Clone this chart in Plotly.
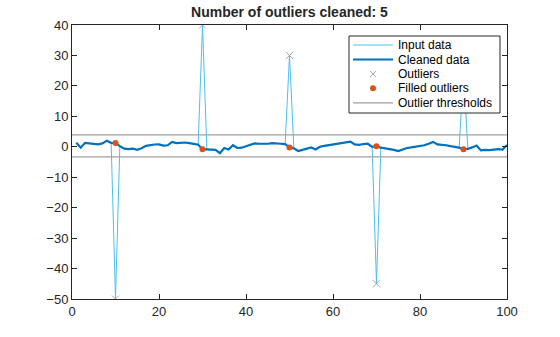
import plotly.graph_objects as go

# Sample index 1..100
x = list(range(1, 101))

# Cleaned signal (outliers replaced by filled values)
cleaned = [
    1.35, -0.3, 1.3, 1.1, 0.9, 0.8, 1.1, 2.0, 1.3, 1.2,
    0.2, -0.6, -0.8, -0.6, -1.0, -0.5, 0.3, 0.6, 0.75, 0.8,
    0.4, 0.5, 1.6, 1.2, 1.3, 1.4, 1.2, 1.0, 0.7, -0.8,
    -0.9, -1.0, -1.0, -2.1, -0.4, -0.9, 0.5, -0.4, -0.3, 0.2,
    0.7, 1.1, 1.0, 0.9, 1.0, 1.2, 1.0, 1.0, 0.9, -0.2,
    -0.5, -1.4, -1.0, -0.6, -0.2, -0.9, 0.0, 0.3, 0.5, 0.7,
    0.9, 1.2, 1.4, 1.7, 0.8, 0.6, 0.9, 1.0, 0.0, 0.2,
    -0.3, -0.5, -0.8, -1.0, -1.4, -0.9, -0.4, -0.2, 0.0, 0.3,
    0.5, 1.0, 1.6, 0.8, 0.7, 0.5, 0.2, 0.0, -0.3, -0.8,
    -0.7, -0.2, 0.4, -1.2, -1.0, -1.1, -0.9, -0.8, -0.9, 0.6,
]

# Outlier positions and their raw values
outlier_x = [10, 30, 50, 70, 90]
outlier_y = [-50, 40, 30, -45, 25]

# Outlier detection thresholds
upper_threshold = 3.9
lower_threshold = -3.3
threshold_span = [0, 100]

legend_labels = ["Input data", "Cleaned data", "Outliers",
                 "Filled outliers", "Outlier thresholds"]

INPUT_C = "#4DBEEE"
CLEAN_C = "#0072BD"
OUTLIER_C = "#a6a6a6"
FILLED_C = "#D95319"
THRESH_C = "#a0a0a0"
AXIS_C = "#262626"

# Raw input = cleaned signal with the outliers put back in
raw = list(cleaned)
for xi, yi in zip(outlier_x, outlier_y):
    raw[xi - 1] = yi
filled_y = [cleaned[xi - 1] for xi in outlier_x]

fig = go.Figure()
fig.add_trace(go.Scatter(x=x, y=raw, mode="lines", name=legend_labels[0],
                         line=dict(color=INPUT_C, width=1)))
fig.add_trace(go.Scatter(x=x, y=cleaned, mode="lines", name=legend_labels[1],
                         line=dict(color=CLEAN_C, width=2.2)))
fig.add_trace(go.Scatter(x=outlier_x, y=outlier_y, mode="markers", name=legend_labels[2],
                         marker=dict(symbol="x-thin", size=7, color=OUTLIER_C,
                                     line=dict(color=OUTLIER_C, width=1))))
fig.add_trace(go.Scatter(x=outlier_x, y=filled_y, mode="markers", name=legend_labels[3],
                         marker=dict(symbol="circle", size=6, color=FILLED_C)))
fig.add_trace(go.Scatter(
    x=threshold_span + [None] + threshold_span,
    y=[upper_threshold] * 2 + [None] + [lower_threshold] * 2,
    mode="lines", name=legend_labels[4],
    line=dict(color=THRESH_C, width=1.2)))

axis_common = dict(
    showgrid=False, zeroline=False, showline=True, linecolor=AXIS_C,
    linewidth=1, mirror="ticks", ticks="inside", ticklen=5, tickcolor=AXIS_C,
    tickfont=dict(size=13, color=AXIS_C),
)
fig.update_xaxes(range=[0, 100], tickvals=[0, 20, 40, 60, 80, 100], **axis_common)
fig.update_yaxes(range=[-50, 40], tickvals=list(range(-50, 41, 10)), **axis_common)

# Compact boxed legend, laid out in pixel units and converted to paper coords
W, H = 560, 337
ML, MR, MT, MB = 72, 53, 25, 38
PW, PH = W - ML - MR, H - MT - MB


def px(xp):
    return (xp - ML) / PW


def py(yp):
    return (H - MB - yp) / PH


box_l, box_r, box_t, box_b = 349, 500, 36, 113
row_y = [45, 59.5, 74, 88.3, 102.8]
sample_l, sample_r, text_l = 353, 393, 396

shapes = [dict(type="rect", xref="paper", yref="paper", layer="above",
               x0=px(box_l), x1=px(box_r), y0=py(box_b), y1=py(box_t),
               fillcolor="white", line=dict(color=AXIS_C, width=1))]
annotations = []

for i, label in enumerate(legend_labels):
    ry = row_y[i]
    if i in (0, 1, 4):
        color, width = [(INPUT_C, 1), (CLEAN_C, 2.2), None, None, (THRESH_C, 1.2)][i]
        shapes.append(dict(type="line", xref="paper", yref="paper", layer="above",
                           x0=px(sample_l), x1=px(sample_r), y0=py(ry), y1=py(ry),
                           line=dict(color=color, width=width)))
    elif i == 2:
        cx, d = (sample_l + sample_r) / 2, 3
        for sgn in (1, -1):
            shapes.append(dict(type="line", xref="paper", yref="paper", layer="above",
                               x0=px(cx - d), x1=px(cx + d),
                               y0=py(ry - sgn * d), y1=py(ry + sgn * d),
                               line=dict(color=OUTLIER_C, width=1)))
    else:
        cx, r = (sample_l + sample_r) / 2, 3
        shapes.append(dict(type="circle", xref="paper", yref="paper", layer="above",
                           x0=px(cx - r), x1=px(cx + r), y0=py(ry + r), y1=py(ry - r),
                           fillcolor=FILLED_C, line=dict(color=FILLED_C, width=0)))
    annotations.append(dict(text=label, xref="paper", yref="paper",
                            x=px(text_l), y=py(ry), xanchor="left", yanchor="middle",
                            showarrow=False, font=dict(size=12, color="black")))

fig.update_layout(
    width=W, height=H,
    margin=dict(l=ML, r=MR, t=MT, b=MB),
    paper_bgcolor="white", plot_bgcolor="white",
    font=dict(family="Liberation Sans, Arial, sans-serif", color=AXIS_C),
    title=dict(text="<b>Number of outliers cleaned: 5</b>", x=0.5, xref="paper",
               y=1 - 12 / 337, yref="container", yanchor="middle",
               font=dict(size=14, color=AXIS_C)),
    showlegend=False,
    shapes=shapes,
    annotations=annotations,
)

fig.write_html("out.html")
